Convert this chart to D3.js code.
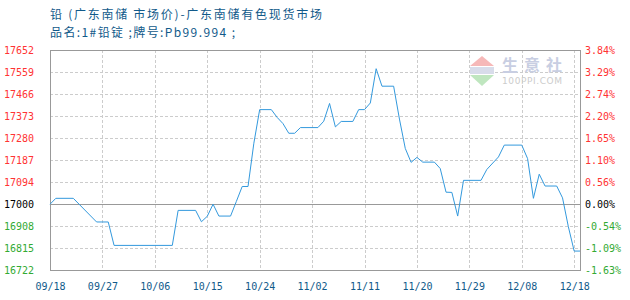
<!DOCTYPE html>
<html>
<head>
<meta charset="utf-8">
<script src="https://cdn.jsdelivr.net/npm/d3@7"></script>
<style>
  body { margin: 0; background: #fff; }
  .axis text { font-family: "DejaVu Sans Mono", monospace; font-size: 10px; }
  .axis path, .axis line { display: none; }
</style>
</head>
<body>
<div id="root"></div>
<script>
"use strict";

/* ************************************* Data ******************************** */

// day index (0 = 09/18) and price at each corner of the line
const days = [0, 1, 4, 8, 10, 11, 21, 22, 25, 26, 27, 28, 29, 31, 32, 33, 34, 35, 36, 38,
    39, 40, 41, 42, 43, 46, 47, 48, 49, 50, 52, 53, 54, 55, 56, 57, 59, 60, 61, 62,
    63, 64, 66, 67, 68, 69, 70, 71, 74, 75, 77, 78, 81, 82, 83, 84, 85, 87, 88, 89, 90, 91];
const prices = [17000, 17025, 17025, 16925, 16925, 16826, 16826, 16974, 16974, 16926, 16949, 17000, 16950, 16950, 17012, 17075, 17075, 17258, 17400, 17400,
    17367, 17341, 17300, 17300, 17324, 17324, 17351, 17426, 17327, 17350, 17350, 17400, 17400, 17428, 17573, 17499, 17499, 17360, 17236, 17177,
    17198, 17178, 17178, 17151, 17051, 17050, 16950, 17101, 17101, 17147, 17200, 17250, 17250, 17193, 17025, 17127, 17077, 17077, 17027, 16905, 16802, 16802];

// x axis labels and where they sit (day index)
const xTickDays = [0, 9, 18, 27, 36, 45, 54, 63, 72, 81, 90];
const xTickLabels = ["09/18", "09/27", "10/06", "10/15", "10/24", "11/02", "11/11", "11/20", "11/29", "12/08", "12/18"];

// y axis ticks (price on left, change on right)
const yTicks = [17652, 17559, 17466, 17373, 17280, 17187, 17094, 17000, 16908, 16815, 16722];
const pctLabels = ["3.84%", "3.29%", "2.74%", "2.20%", "1.65%", "1.10%", "0.56%", "0.00%", "-0.54%", "-1.09%", "-1.63%"];
const basePrice = 17000;

const titleLine1 = "铅 (广东南储 市场价)-广东南储有色现货市场";
const titleLine2 = "品名:1#铅锭 ;牌号:Pb99.994 ;";

/* ************************************* Set up ******************************** */

const width = 630;
const height = 300;
const margin = { top: 50, right: 50, bottom: 30, left: 50 };
const drawWidth = width - margin.left - margin.right;
const drawHeight = height - margin.top - margin.bottom;

const red = "#ff3333";
const green = "#33aa33";
const textBlue = "#115a8a";
const lineColor = "#3399dd";

let svg = d3.select('#root')
    .append('svg')
    .attr('width', width)
    .attr('height', height);

// Title
svg.append('text')
    .attr('x', margin.left)
    .attr('y', 19)
    .attr('textLength', 272)
    .attr('lengthAdjust', 'spacing')
    .style('font-family', '"Noto Sans CJK SC", sans-serif')
    .style('font-size', '12px')
    .style('white-space', 'pre')
    .attr('fill', textBlue)
    .text(titleLine1);

svg.append('text')
    .attr('x', margin.left)
    .attr('y', 37)
    .attr('textLength', 185)
    .attr('lengthAdjust', 'spacing')
    .style('font-family', '"Noto Sans CJK SC", sans-serif')
    .style('font-size', '12px')
    .style('white-space', 'pre')
    .attr('fill', textBlue)
    .text(titleLine2);

let chartG = svg.append('g')
    .attr('transform', `translate(${margin.left},${margin.top})`);

/* ************************************* Scales ******************************** */

let xScale = d3.scaleLinear()
    .domain([0, 91])
    .range([0, drawWidth]);

let yScale = d3.scaleLinear()
    .domain([16722, 17652])
    .range([drawHeight, 0]);

/* ************************************* Grid ******************************** */

chartG.selectAll('.hgrid')
    .data(yTicks)
    .enter().append('line')
    .attr('class', 'hgrid')
    .attr('x1', 0)
    .attr('x2', drawWidth)
    .attr('y1', (d) => Math.round(yScale(d)) + 0.5)
    .attr('y2', (d) => Math.round(yScale(d)) + 0.5)
    .attr('stroke', (d) => d === basePrice ? '#999' : '#ccc')
    .attr('stroke-dasharray', (d) => d === basePrice ? null : '3,2');

chartG.selectAll('.vgrid')
    .data(xTickDays)
    .enter().append('line')
    .attr('class', 'vgrid')
    .attr('x1', (d) => Math.round(xScale(d)) + 0.5)
    .attr('x2', (d) => Math.round(xScale(d)) + 0.5)
    .attr('y1', 0)
    .attr('y2', drawHeight)
    .attr('stroke', '#ccc')
    .attr('stroke-dasharray', '3,2');

/* ************************************* Watermark ******************************** */

let wm = chartG.append('g')
    .attr('transform', `translate(${drawWidth - 110},0)`);
wm.append('path').attr('d', 'M12,6 L24,16 L0,16 Z').attr('fill', '#f6b8b8');
wm.append('rect').attr('x', 0).attr('y', 17).attr('width', 24).attr('height', 7).attr('fill', '#d8dcea');
wm.append('path').attr('d', 'M0,25 L24,25 L12,36 Z').attr('fill', '#bfe6bf');
wm.append('text')
    .attr('x', 32).attr('y', 21)
    .attr('textLength', 60)
    .style('font-family', '"Noto Sans CJK SC", sans-serif')
    .style('font-size', '16px')
    .style('font-weight', 'bold')
    .attr('fill', '#c8cee2')
    .text('生意社');
wm.append('text')
    .attr('x', 32).attr('y', 34)
    .attr('textLength', 60)
    .style('font-family', '"DejaVu Sans", sans-serif')
    .style('font-size', '9px')
    .attr('fill', '#cccccc')
    .text('100PPI.COM');

/* ************************************* Frame ******************************** */

chartG.append('rect')
    .attr('x', 0.5)
    .attr('y', 0.5)
    .attr('width', drawWidth)
    .attr('height', drawHeight)
    .attr('fill', 'none')
    .attr('stroke', '#999');

/* ************************************* Axes ******************************** */

let leftAxis = d3.axisLeft(yScale)
    .tickValues(yTicks)
    .tickSize(0)
    .tickPadding(16)
    .tickFormat((d) => d);

chartG.append('g')
    .attr('class', 'axis')
    .call(leftAxis)
    .selectAll('text')
    .attr('fill', (d) => d > basePrice ? red : (d < basePrice ? green : '#000'));

let rightAxis = d3.axisRight(yScale)
    .tickValues(yTicks)
    .tickSize(0)
    .tickPadding(5)
    .tickFormat((d, i) => pctLabels[i]);

chartG.append('g')
    .attr('class', 'axis')
    .attr('transform', `translate(${drawWidth},0)`)
    .call(rightAxis)
    .selectAll('text')
    .attr('fill', (d) => d > basePrice ? red : (d < basePrice ? green : '#000'));

let xAxis = d3.axisBottom(xScale)
    .tickValues(xTickDays)
    .tickSize(0)
    .tickPadding(13)
    .tickFormat((d, i) => xTickLabels[i]);

chartG.append('g')
    .attr('class', 'axis')
    .attr('transform', `translate(0,${drawHeight})`)
    .call(xAxis)
    .selectAll('text')
    .attr('fill', textBlue);

/* ************************************* Line ******************************** */

let data = days.map((d, i) => ({ x: d, y: prices[i] }));

let line = d3.line()
    .x((d) => xScale(d.x))
    .y((d) => yScale(d.y));

chartG.append('path')
    .datum(data)
    .attr('fill', 'none')
    .attr('stroke', lineColor)
    .attr('stroke-width', 1)
    .attr('d', line);
</script>
</body>
</html>
